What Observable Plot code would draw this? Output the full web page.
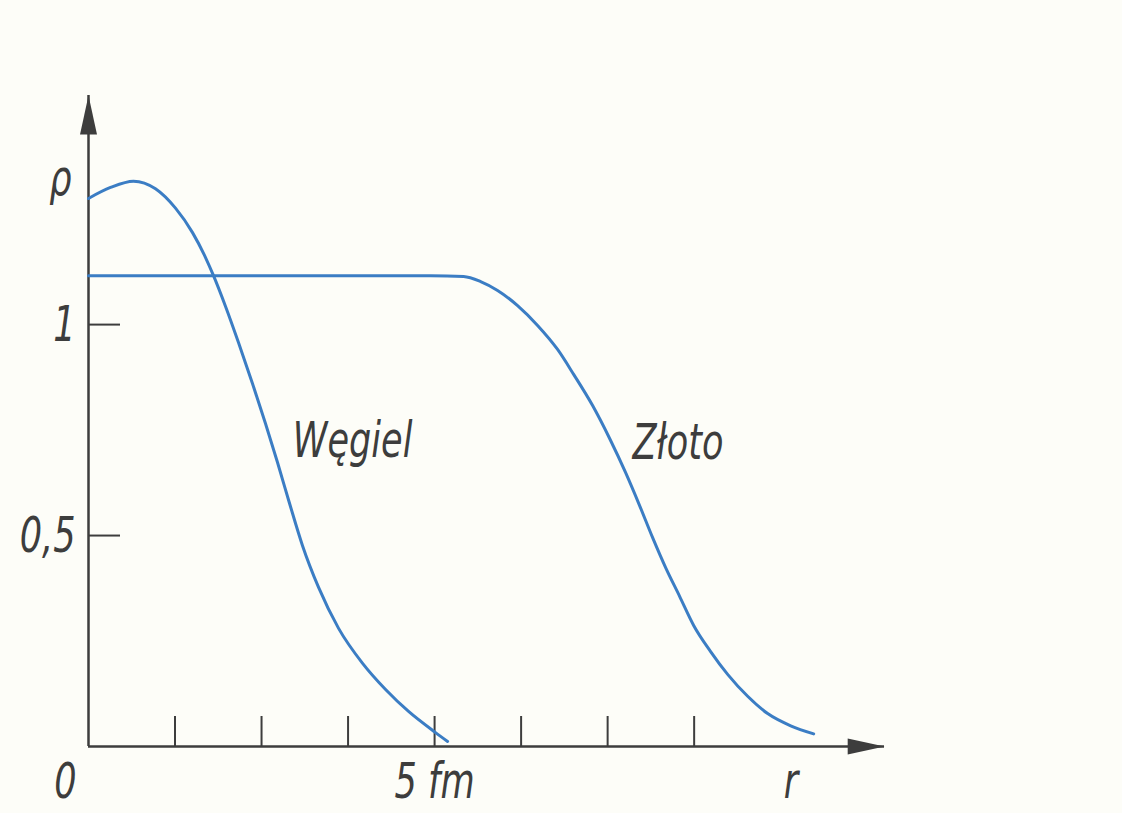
<!DOCTYPE html>
<html>
<head>
<meta charset="utf-8">
<script src="https://cdn.jsdelivr.net/npm/d3@7"></script>
<script src="https://cdn.jsdelivr.net/npm/@observablehq/plot@0.6"></script>
<style>
  html, body { margin: 0; padding: 0; background: #fdfdf8; }
  #chart svg { display: block; }
</style>
</head>
<body>
<div id="chart"></div>
<script>
// Nuclear density ρ(r) for carbon (Węgiel) and gold (Złoto), r in fm.
const carbonR   = [0, 0.318, 0.650, 0.968, 1.257, 1.503, 1.691, 1.806, 1.980, 2.168, 2.370, 2.558, 2.731, 2.905, 3.092, 3.324, 3.613, 3.960, 4.292, 4.624, 5.014, 5.188];
const carbonRho = [1.299, 1.325, 1.340, 1.322, 1.276, 1.218, 1.159, 1.116, 1.043, 0.957, 0.860, 0.765, 0.673, 0.576, 0.476, 0.377, 0.280, 0.197, 0.135, 0.083, 0.033, 0.012];

const goldR   = [0, 2.5, 4.942, 5.419, 5.665, 5.910, 6.199, 6.488, 6.777, 7.009, 7.283, 7.529, 7.760, 7.962, 8.150, 8.338, 8.540, 8.743, 8.988, 9.234, 9.523, 9.812, 10.145, 10.477];
const goldRho = [1.116, 1.116, 1.116, 1.114, 1.102, 1.081, 1.045, 0.998, 0.941, 0.882, 0.808, 0.730, 0.649, 0.571, 0.495, 0.424, 0.356, 0.287, 0.225, 0.171, 0.119, 0.078, 0.049, 0.030];

const seriesNames = ["Węgiel", "Złoto"];

const xTickValues = [1.25, 2.5, 3.75, 5, 6.25, 7.5, 8.75];
const xLabelValues = [5];
const xLabelText = ["5 fm"];
const yTickValues = [0.5, 1];
const yTickLabels = ["0,5", "1"];
const axisNames = ["r", "ρ"];
const originLabel = "0";

const carbon = carbonR.map((r, i) => ({r, rho: carbonRho[i]}));
const gold = goldR.map((r, i) => ({r, rho: goldRho[i]}));

const xMax = 11.5;
const yMax = 1.543;

const ink = "#3d3d3d";
const curveColor = "#3b7dc4";
const font = "'DejaVu Sans Condensed', 'DejaVu Sans', sans-serif";

// Solid, slender arrowhead with its tip at the origin, pointing up.
const arrowHead = {
  draw(ctx, size) {
    const k = Math.sqrt(size / Math.PI);
    ctx.moveTo(0, 0);
    ctx.lineTo(k * 0.5, k * 2.3);
    ctx.lineTo(-k * 0.5, k * 2.3);
    ctx.closePath();
  }
};

const chart = Plot.plot({
  width: 1122,
  height: 813,
  marginLeft: 88,
  marginRight: 238,
  marginTop: 95,
  marginBottom: 67,
  x: {domain: [0, xMax]},
  y: {domain: [0, yMax]},
  style: {background: "#fdfdf8", fontFamily: font, fontStyle: "italic", fontSize: "50px", color: ink},
  marks: [
    // tick marks pointing into the plot
    Plot.axisX({ticks: xTickValues, tickSize: -30, tickFormat: () => "", label: null, stroke: ink, strokeWidth: 2}),
    Plot.axisY({ticks: yTickValues, tickSize: -32, tickFormat: () => "", label: null, stroke: ink, strokeWidth: 2}),
    // tick labels
    Plot.axisY({ticks: yTickValues, tickSize: 0, tickPadding: 13, label: null,
      tickFormat: d => yTickLabels[yTickValues.indexOf(d)], fill: ink}),
    Plot.text(xLabelValues, {x: d => d, y: 0, text: (d, i) => xLabelText[i], dy: 51, lineAnchor: "bottom", fill: ink}),
    Plot.text([originLabel], {x: 0, y: 0, text: d => d, dx: -23, dy: 51, lineAnchor: "bottom", fill: ink}),
    Plot.text([axisNames[0]], {x: 10.15, y: 0, text: d => d, dy: 51, lineAnchor: "bottom", fill: ink}),
    Plot.text([axisNames[1]], {x: 0, y: 1.306, text: d => d, dx: -28, lineAnchor: "bottom", fill: ink}),
    // axes with arrows
    Plot.ruleX([0], {stroke: ink, strokeWidth: 2.5}),
    Plot.ruleY([0], {stroke: ink, strokeWidth: 2.5}),
    Plot.dot([yMax], {x: 0, y: d => d, symbol: arrowHead, r: 17, fill: ink, stroke: "none"}),
    Plot.dot([xMax], {x: d => d, y: 0, symbol: arrowHead, r: 16, rotate: 90, fill: ink, stroke: "none"}),
    // density curves
    Plot.line(carbon, {x: "r", y: "rho", stroke: curveColor, strokeWidth: 3, curve: "monotone-x"}),
    Plot.line(gold, {x: "r", y: "rho", stroke: curveColor, strokeWidth: 3, curve: "monotone-x"}),
    // curve names
    Plot.text([seriesNames[0]], {x: 2.95, y: 0.685, text: d => d, textAnchor: "start", lineAnchor: "bottom", fill: ink}),
    Plot.text([seriesNames[1]], {x: 7.86, y: 0.682, text: d => d, textAnchor: "start", lineAnchor: "bottom", fill: ink})
  ]
});

document.getElementById("chart").append(chart);

// Narrow lettering: squeeze every label horizontally.
chart.querySelectorAll("text").forEach(t => {
  const len = t.getComputedTextLength();
  if (len > 0) {
    t.setAttribute("textLength", (len * 0.78).toFixed(1));
    t.setAttribute("lengthAdjust", "spacingAndGlyphs");
  }
});
</script>
</body>
</html>
